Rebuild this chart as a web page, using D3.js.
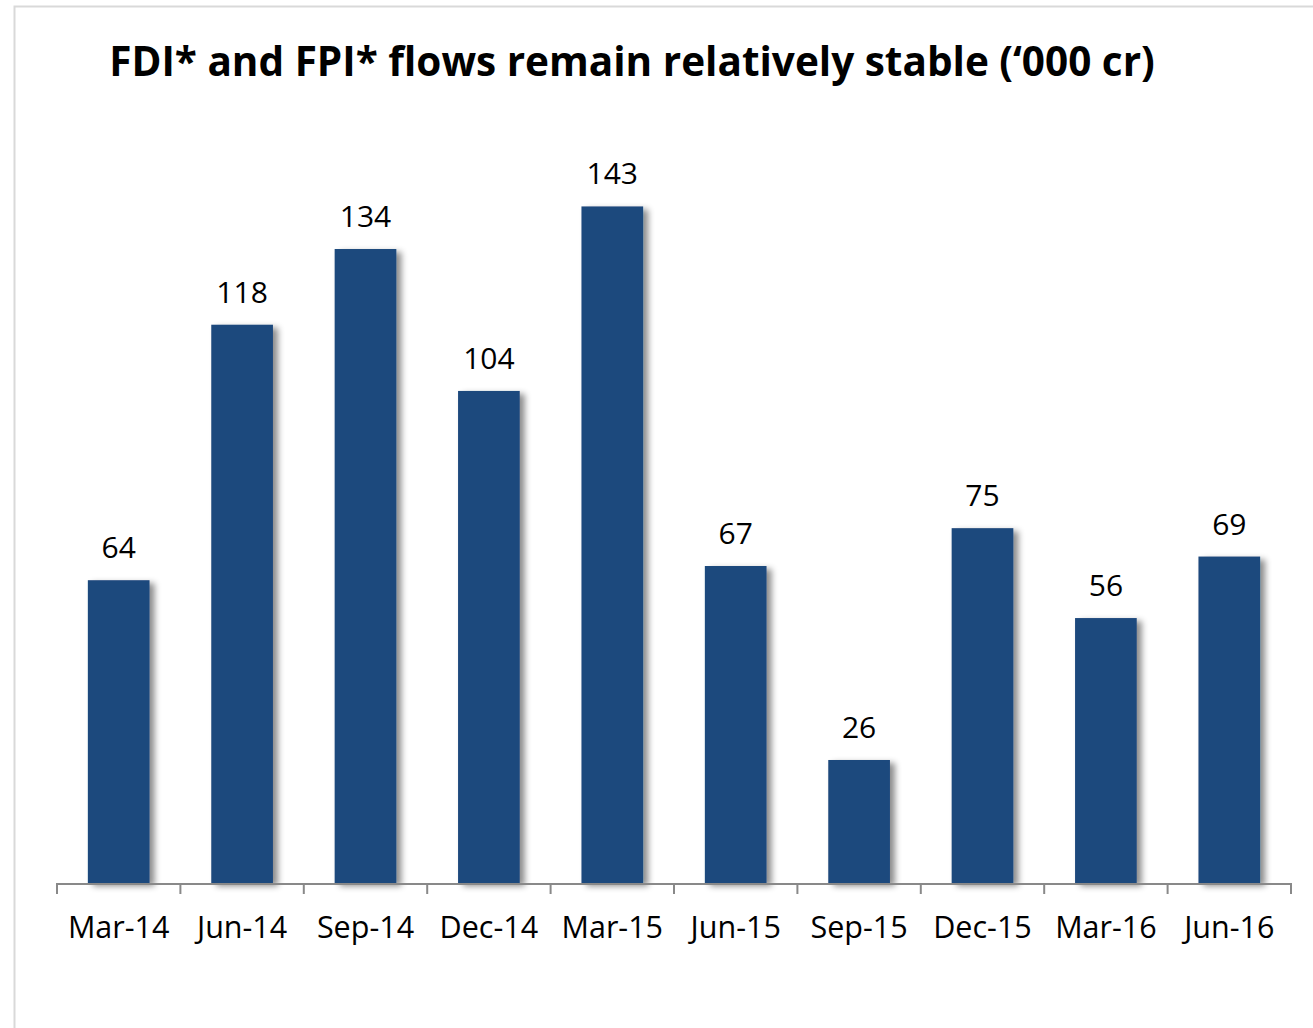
<!DOCTYPE html>
<html>
<head>
<meta charset="utf-8">
<script src="https://cdn.jsdelivr.net/npm/d3@7"></script>
<style>
  html, body { margin: 0; padding: 0; background: #fff; }
  svg { display: block; }
</style>
</head>
<body>
<script>
// chart data
const categories = ["Mar-14", "Jun-14", "Sep-14", "Dec-14", "Mar-15", "Jun-15", "Sep-15", "Dec-15", "Mar-16", "Jun-16"];
const values = [64, 118, 134, 104, 143, 67, 26, 75, 56, 69];
const titleText = "FDI* and FPI* flows remain relatively stable (\u2018000 cr)";

const width = 1313;
const height = 1028;
const margin = { left: 57, right: 22, baseline: 883 };

const svg = d3.select("body").append("svg")
    .attr("width", width)
    .attr("height", height);

// drop shadow for bars
const defs = svg.append("defs");
const shadow = defs.append("filter").attr("id", "shadow")
    .attr("x", "-20%").attr("y", "-5%").attr("width", "160%").attr("height", "120%");
shadow.append("feDropShadow")
    .attr("dx", 5).attr("dy", 3)
    .attr("stdDeviation", 3)
    .attr("flood-color", "#000")
    .attr("flood-opacity", 0.45);

// outer frame
svg.append("rect")
    .attr("x", 14.5).attr("y", 6.5)
    .attr("width", width + 20).attr("height", height + 20)
    .attr("fill", "none")
    .attr("stroke", "#d9d9d9")
    .attr("stroke-width", 2);

// title
svg.append("text")
    .attr("x", 632).attr("y", 76)
    .attr("text-anchor", "middle")
    .style("font-family", "'Open Sans', sans-serif")
    .style("font-weight", "bold")
    .style("font-size", "40.5px")
    .attr("fill", "#000")
    .text(titleText);

// scales
const x = d3.scaleBand()
    .domain(categories)
    .range([margin.left, width - margin.right])
    .paddingInner(0.5)
    .paddingOuter(0.25);

const y = d3.scaleLinear()
    .domain([0, 160])
    .range([margin.baseline, margin.baseline - 757]);

// bars
svg.append("g")
    .selectAll("rect")
    .data(values)
    .join("rect")
    .attr("x", (d, i) => x(categories[i]))
    .attr("y", d => y(d))
    .attr("width", x.bandwidth())
    .attr("height", d => y(0) - y(d))
    .attr("fill", "#1f497d")
    .attr("filter", "url(#shadow)");

// value labels
svg.append("g")
    .selectAll("text")
    .data(values)
    .join("text")
    .attr("x", (d, i) => x(categories[i]) + x.bandwidth() / 2)
    .attr("y", d => y(d) - 22)
    .attr("text-anchor", "middle")
    .style("font-family", "'Open Sans', sans-serif")
    .style("font-size", "30px")
    .attr("fill", "#000")
    .text(d => d);

// x axis: ticks between categories
const step = x.step();
const tickPos = d3.range(categories.length + 1).map(i => margin.left + i * step);
const axis = svg.append("g");
axis.append("line")
    .attr("x1", margin.left).attr("x2", width - margin.right)
    .attr("y1", margin.baseline + 1).attr("y2", margin.baseline + 1)
    .attr("stroke", "#898989").attr("stroke-width", 2);
axis.selectAll(".tick")
    .data(tickPos)
    .join("line")
    .attr("class", "tick")
    .attr("x1", d => d).attr("x2", d => d)
    .attr("y1", margin.baseline).attr("y2", margin.baseline + 11)
    .attr("stroke", "#898989").attr("stroke-width", 2);
axis.selectAll("text")
    .data(categories)
    .join("text")
    .attr("x", d => x(d) + x.bandwidth() / 2)
    .attr("y", 938)
    .attr("text-anchor", "middle")
    .style("font-family", "'Open Sans', sans-serif")
    .style("font-size", "30.5px")
    .attr("fill", "#000")
    .text(d => d);
</script>
</body>
</html>
